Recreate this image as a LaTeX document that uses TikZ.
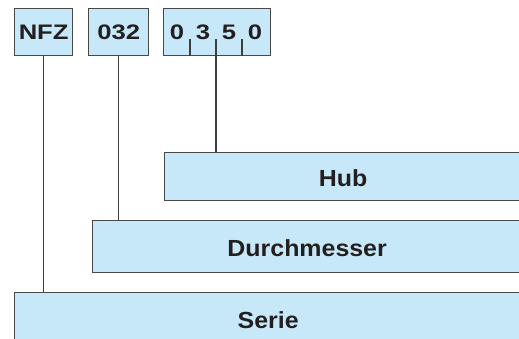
\documentclass[tikz,border=0pt]{standalone}
\usepackage{fontspec}
\setmainfont{Liberation Sans}
\newfontfamily\codefont{Liberation Sans}[FakeStretch=1.22]
\newfontfamily\barfont{Liberation Sans}[FakeStretch=1.07]
\definecolor{boxblue}{RGB}{199,232,248}
\definecolor{edgegray}{RGB}{72,72,72}
\definecolor{linkgray}{RGB}{62,62,62}
\definecolor{inkblack}{RGB}{35,31,32}

\tikzset{
    codebox/.style={draw=edgegray, fill=boxblue, line width=1.3pt, inner sep=0pt,
        minimum height=47pt, anchor=north west, text=inkblack,
        font=\codefont\bfseries\fontsize{21pt}{21pt}\selectfont,
        text height=15pt, text depth=0pt},
    digit/.style={inner sep=0pt, text=inkblack,
        font=\codefont\bfseries\fontsize{21pt}{21pt}\selectfont,
        text height=15pt, text depth=0pt},
    bar/.style={codebox, font=\barfont\bfseries\fontsize{23.3pt}{24pt}\selectfont,
        text height=20pt},
    link/.style={draw=linkgray, line width=1.3pt}
}

\begin{document}
\begin{tikzpicture}[x=1pt,y=-1pt]

        \useasboundingbox (0,0) rectangle (519,338);
        \clip (0,0) rectangle (519,338);

        \node[codebox, minimum width=58pt] (nfz) at (14,8) {NFZ};
        \node[codebox, minimum width=60pt] (dia) at (88,8) {032};
        \node[codebox, minimum width=107pt] (code) at (163,8) {};
        \foreach \d [count=\i] in {0,3,5,0}
            \node[digit] (d\i) at (151+26*\i,31.5) {\d};

        \node[bar, minimum width=357pt, minimum height=48pt] (hub) at (164,152) {Hub};
        \node[bar, minimum width=429pt, minimum height=52pt] (durch) at (92,220) {Durchmesser};
        \node[bar, minimum width=507pt, minimum height=52pt] (serie) at (14,292) {Serie};

        \foreach \i in {1,3} {
            \coordinate (t\i) at ([xshift=1pt+26pt*\i]code.south west);
            \draw[link] (t\i) -- ([yshift=17pt]t\i);
        }
        \coordinate (t2) at ([xshift=53pt]code.south west);

        \draw[link] (nfz.south) -- (nfz.south |- serie.north);
        \draw[link] (dia.south) -- (dia.south |- durch.north);
        \draw[link] ([yshift=17pt]t2) -- (t2 |- hub.north);
    \end{tikzpicture}
\end{document}
